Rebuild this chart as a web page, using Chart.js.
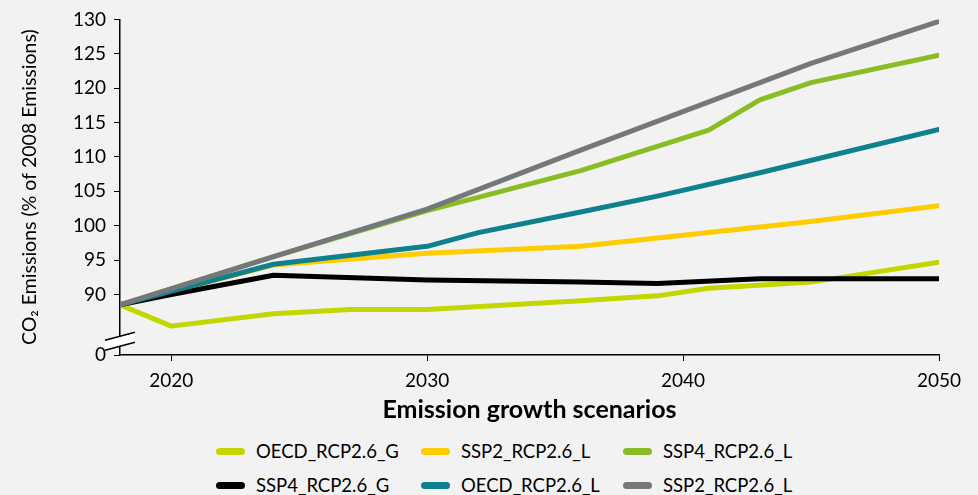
<!DOCTYPE html>
<html>
<head>
<meta charset="utf-8">
<script src="https://cdn.jsdelivr.net/npm/chart.js@4/dist/chart.umd.min.js"></script>
<style>
  body { margin: 0; background: #f2f2f2; font-family: Lato, sans-serif; }
  #wrap { position: relative; width: 978px; height: 495px; }
  #chart-box { position: absolute; left: 0; top: 0; width: 978px; height: 430px; }
  #legend {
    position: absolute; left: 216px; top: 434px;
    display: grid; grid-template-columns: 205px 202px 180px;
  }
  .item { display: flex; align-items: center; height: 34px; font-size: 18.5px; color: #000; }
  .swatch { width: 29px; height: 7px; border-radius: 4px; margin-right: 11px; }
</style>
</head>
<body>
<div id="wrap">
  <div id="chart-box"><canvas id="emissionsChart"></canvas></div>
  <div id="legend"></div>
</div>
<script>
// series data (year, % of 2008 emissions)
const seriesNames = ['OECD_RCP2.6_G', 'SSP2_RCP2.6_L', 'SSP4_RCP2.6_L', 'SSP4_RCP2.6_G', 'OECD_RCP2.6_L', 'SSP2_RCP2.6_L']
const seriesColors = ['#c4d600', '#ffcc00', '#8abd24', '#000000', '#0e818c', '#75787b']

const oecdGYears = [2018, 2020, 2024, 2027, 2030, 2036, 2039, 2041, 2045, 2050]
const oecdGValues = [88.5, 85.4, 87.2, 87.8, 87.8, 89.1, 89.8, 90.9, 91.8, 94.7]

const ssp2LYears = [2018, 2024, 2030, 2036, 2045, 2050]
const ssp2LValues = [88.5, 94.3, 96.0, 97.0, 100.6, 102.9]

const ssp4LYears = [2018, 2024, 2030, 2036, 2041, 2043, 2045, 2050]
const ssp4LValues = [88.5, 95.5, 102.2, 108.0, 113.9, 118.3, 120.8, 124.8]

const ssp4GYears = [2018, 2020, 2024, 2030, 2036, 2039, 2043, 2050]
const ssp4GValues = [88.5, 90.0, 92.8, 92.1, 91.8, 91.6, 92.3, 92.3]

const oecdLYears = [2018, 2024, 2030, 2032, 2036, 2039, 2043, 2050]
const oecdLValues = [88.5, 94.4, 97.0, 99.0, 102.0, 104.3, 107.7, 114.0]

const ssp2GreyYears = [2018, 2024, 2030, 2036, 2045, 2050]
const ssp2GreyValues = [88.5, 95.5, 102.4, 111.0, 123.6, 129.7]

const xTickValues = [2020, 2030, 2040, 2050]
const yTickValues = [90, 95, 100, 105, 110, 115, 120, 125, 130]
const yBreakValue = 81.2   // bottom of the broken axis, labelled "0"

const allYears = [oecdGYears, ssp2LYears, ssp4LYears, ssp4GYears, oecdLYears, ssp2GreyYears]
const allValues = [oecdGValues, ssp2LValues, ssp4LValues, ssp4GValues, oecdLValues, ssp2GreyValues]

const datasets = seriesNames.map((name, i) => ({
    label: name,
    data: allYears[i].map((yr, j) => ({ x: yr, y: allValues[i][j] })),
    borderColor: seriesColors[i],
    backgroundColor: seriesColors[i],
    borderWidth: 5,
    borderCapStyle: 'round',
    borderJoinStyle: 'round',
    pointRadius: 0,
    tension: 0,
    order: 6 - i
}))

// little white break mark on the y axis
const axisBreak = {
    id: 'axisBreak',
    afterDraw(chart) {
        const ctx = chart.ctx
        const x0 = chart.chartArea.left
        const yc = chart.scales.y.getPixelForValue(83.2)
        ctx.save()
        ctx.fillStyle = '#ffffff'
        ctx.beginPath()
        ctx.moveTo(x0 - 15, yc - 1)
        ctx.lineTo(x0 + 15, yc - 9)
        ctx.lineTo(x0 + 15, yc + 1)
        ctx.lineTo(x0 - 15, yc + 9)
        ctx.closePath()
        ctx.fill()
        ctx.strokeStyle = '#000'
        ctx.lineWidth = 1.5
        ctx.beginPath()
        ctx.moveTo(x0 - 15, yc - 1)
        ctx.lineTo(x0 + 15, yc - 9)
        ctx.moveTo(x0 - 15, yc + 9)
        ctx.lineTo(x0 + 15, yc + 1)
        ctx.stroke()
        ctx.restore()
    }
}

const tickFont = { family: 'Lato', size: 19 }

new Chart(document.getElementById('emissionsChart'), {
    type: 'line',
    data: { datasets: datasets },
    options: {
        responsive: true,
        maintainAspectRatio: false,
        animation: false,
        layout: { padding: { top: 17, right: 39, left: 0, bottom: 0 } },
        plugins: { legend: { display: false }, tooltip: { enabled: false } },
        scales: {
            x: {
                type: 'linear',
                min: 2018,
                max: 2050,
                afterBuildTicks: (scale) => { scale.ticks = xTickValues.map(v => ({ value: v })) },
                afterFit: (scale) => { scale.height = 75 },
                ticks: { font: tickFont, color: '#000', padding: 8, callback: (v) => String(v) },
                grid: { drawOnChartArea: false, drawTicks: true, tickLength: 6, color: '#000' },
                border: { color: '#000', width: 1.5 },
                title: {
                    display: true,
                    text: 'Emission growth scenarios',
                    font: { family: 'Lato', size: 25, weight: 'bold' },
                    color: '#000',
                    padding: { top: 0, bottom: 5 }
                }
            },
            y: {
                min: yBreakValue,
                max: 130,
                afterBuildTicks: (scale) => {
                    scale.ticks = [yBreakValue].concat(yTickValues).map(v => ({ value: v }))
                },
                afterFit: (scale) => { scale.width = 120 },
                ticks: {
                    font: tickFont, color: '#000', padding: 8,
                    callback: (v) => v === yBreakValue ? '0' : String(v)
                },
                grid: { drawOnChartArea: false, drawTicks: true, tickLength: 6, color: '#000' },
                border: { color: '#000', width: 1.5 },
                title: {
                    display: true,
                    text: 'CO₂ Emissions (% of 2008 Emissions)',
                    font: { family: 'Lato', size: 19.5 },
                    color: '#000',
                    padding: { top: 18, bottom: 0 }
                }
            }
        }
    },
    plugins: [axisBreak]
})

// legend, 3 columns x 2 rows like the original
const legendEl = document.getElementById('legend')
seriesNames.forEach((name, i) => {
    const item = document.createElement('div')
    item.className = 'item'
    const sw = document.createElement('span')
    sw.className = 'swatch'
    sw.style.background = seriesColors[i]
    item.appendChild(sw)
    item.appendChild(document.createTextNode(name))
    legendEl.appendChild(item)
})
</script>
</body>
</html>
